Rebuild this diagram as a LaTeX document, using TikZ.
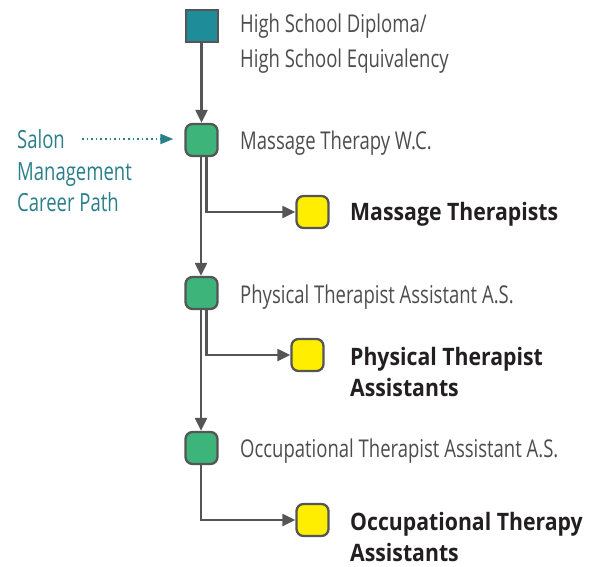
\documentclass[tikz,border=0pt]{standalone}
\usepackage{fontspec}
\setmainfont{Open Sans}[FakeStretch=0.755]
\newfontfamily\boldfam{Open Sans}[FakeStretch=0.885]
\newfontfamily\salonfam{Open Sans}[FakeStretch=0.74]
\usetikzlibrary{arrows.meta,calc}
\definecolor{edgegray}{HTML}{555555}
\definecolor{txtgray}{HTML}{4D4D4D}
\definecolor{tealsq}{HTML}{1E8C99}
\definecolor{greenbox}{HTML}{3DB57A}
\definecolor{yellowbox}{HTML}{FFEE00}
\definecolor{salonteal}{HTML}{2A7F8A}
\definecolor{darktxt}{HTML}{231F20}
\tikzset{
  box/.style={draw=edgegray, line width=2.3pt, minimum width=32pt, minimum height=32pt, inner sep=0pt, rounded corners=7pt},
  startbox/.style={draw=edgegray, line width=2pt, fill=tealsq, minimum width=32pt, minimum height=32pt, inner sep=0pt},
  greenb/.style={box, fill=greenbox},
  yellowb/.style={box, fill=yellowbox},
  conn/.style={draw=edgegray, line width=2.2pt, -{Triangle[length=13pt,width=12pt]}},
  lbl/.style={anchor=west, inner sep=0pt, text=txtgray, font=\fontsize{24.5}{35}\selectfont, align=left},
  blbl/.style={anchor=west, inner sep=0pt, text=darktxt, font=\boldfam\fontsize{24}{31}\selectfont\bfseries, align=left},
  salon/.style={anchor=west, inner sep=0pt, text=salonteal, font=\salonfam\fontsize{25}{31.5}\selectfont, align=left},
}
\begin{document}
\begin{tikzpicture}[x=1pt,y=-1pt]
\useasboundingbox (0,0) rectangle (597,566);
\node[startbox] (s) at (201.5,26) {};
\node[greenb] (g1) at (201.5,140) {};
\node[greenb] (g2) at (201.5,293) {};
\node[greenb] (g3) at (201.5,448) {};
\node[yellowb] (y1) at (312.5,212) {};
\node[yellowb] (y2) at (307.5,355) {};
\node[yellowb] (y3) at (312.5,520) {};
\node[lbl] (t0) at (240,43.5) {High School Diploma/\\High School Equivalency};
\node[lbl] (t1) at (240,143) {Massage Therapy W.C.};
\node[lbl] (t2) at (240,297) {Physical Therapist Assistant A.S.};
\node[lbl] (t3) at (240,451) {Occupational Therapist Assistant A.S.};
\node[blbl] (b1) at (350,214) {Massage Therapists};
\node[blbl] (b2) at (350,372) {Physical Therapist\\Assistants};
\node[blbl] (b3) at (350,537) {Occupational Therapy\\Assistants};
\node[salon] (sal) at (17,171) {Salon\\Management\\Career Path};
\coordinate (sa) at (82,139);
\draw[conn] (s) -- (g1);
\draw[conn] ($(g1.south)+(-0.5,0)$) -- ($(g2.north)+(-0.5,0)$);
\draw[conn] ($(g2.south)+(-0.5,0)$) -- ($(g3.north)+(-0.5,0)$);
\draw[conn] ($(g1.south)+(5,0)$) |- (y1.west);
\draw[conn] ($(g2.south)+(5,0)$) |- (y2.west);
\draw[conn] ($(g3.south)+(-0.5,0)$) |- (y3.west);
\draw[salonteal, line width=1.8pt, dash pattern=on 1.6pt off 3pt, -{Triangle[length=13pt,width=10pt]}, shorten >=11pt] (sa) -- (sa -| g1.west);
\end{tikzpicture}
\end{document}
